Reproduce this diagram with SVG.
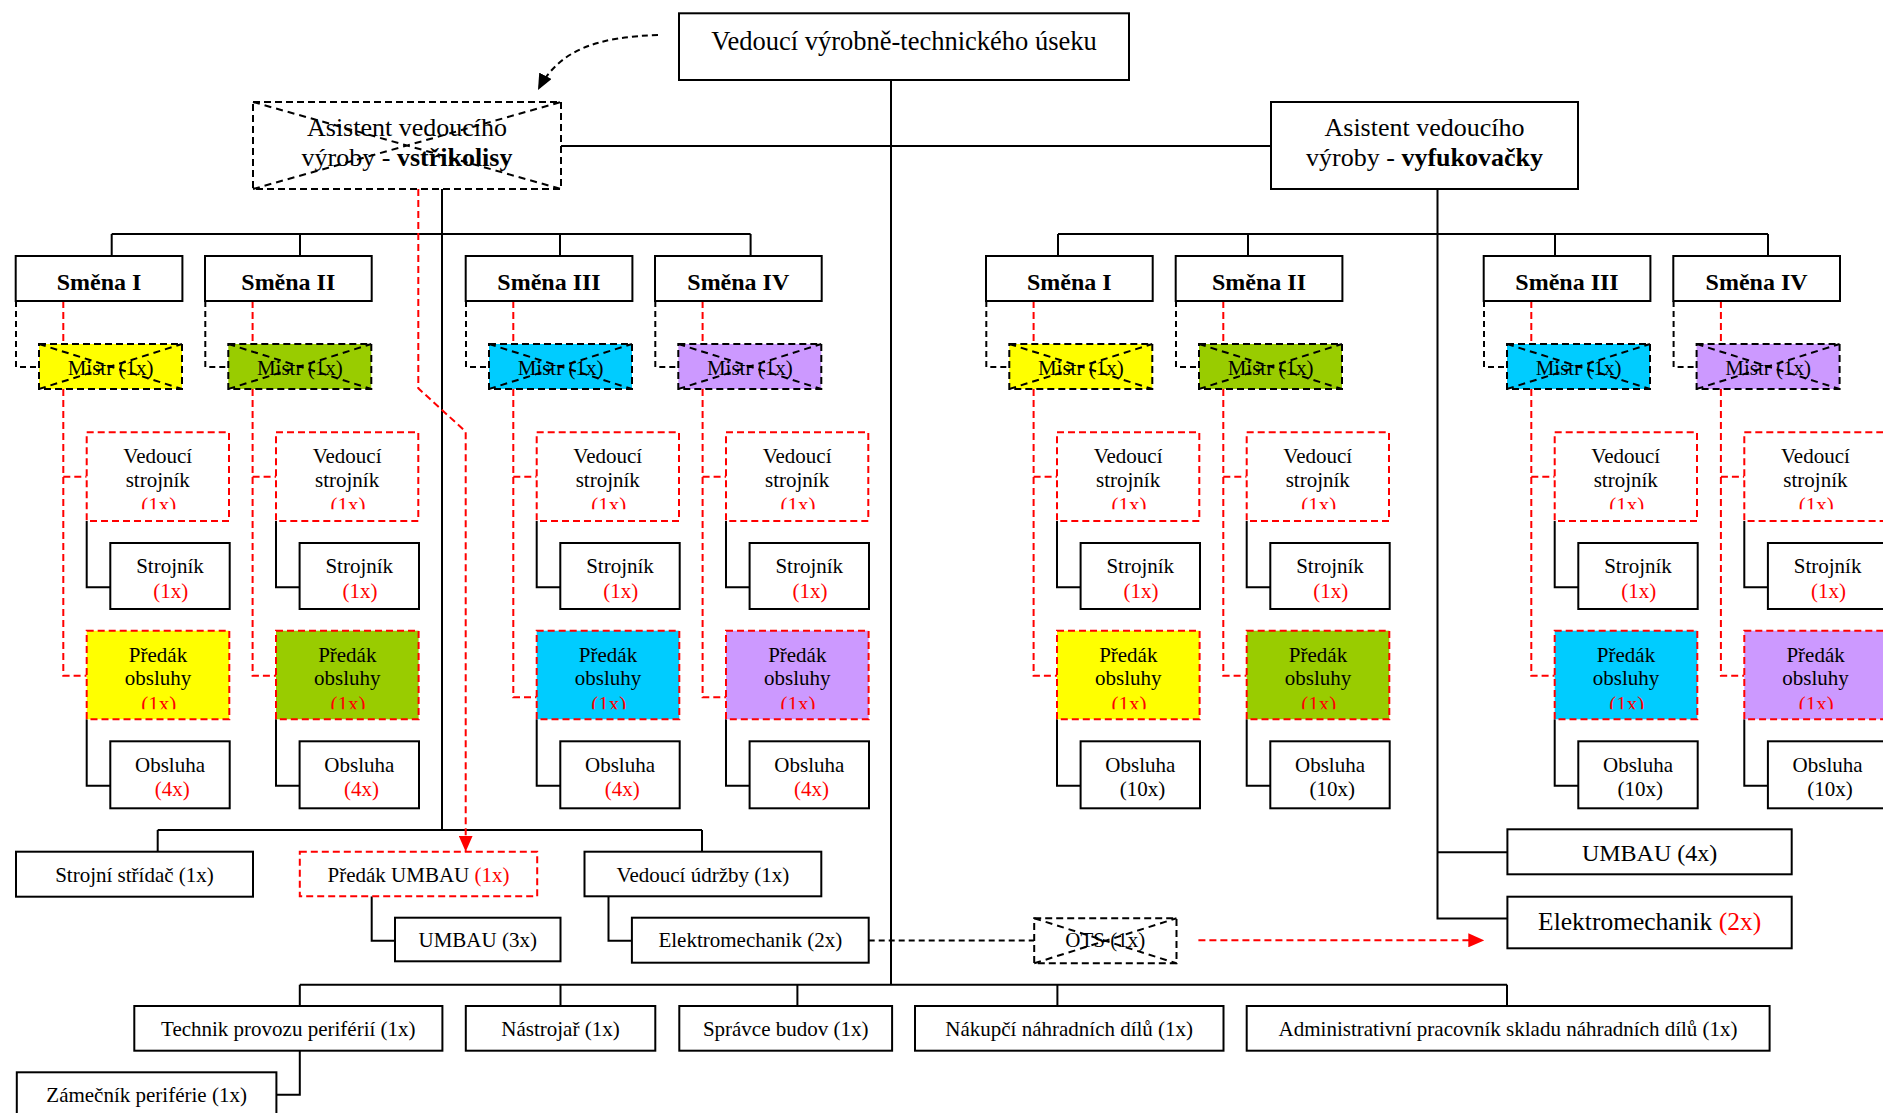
<svg xmlns="http://www.w3.org/2000/svg" width="1883" height="1113" viewBox="0 0 1883 1113">
  <style>
    text { font-family: 'Liberation Serif', 'Times New Roman', serif; fill: #000; text-anchor: middle; }
    .t21 { font-size: 21px; }
    .t24 { font-size: 24px; }
    .t26 { font-size: 26px; }
    .sm { font-size: 24px; font-weight: bold; }
    .red { fill: #f00; }
    .b { font-weight: bold; }
    .box { fill: #fff; stroke: #000; stroke-width: 2; }
    .dbox { fill: #fff; stroke: #000; stroke-width: 2; stroke-dasharray: 7 4; }
    .rbox { fill: #fff; stroke: #f00; stroke-width: 2; stroke-dasharray: 7 4; }
    .xdiag { fill: none; stroke: #000; stroke-width: 2; stroke-dasharray: 7 5; }
    .ln { fill: none; stroke: #000; stroke-width: 2; }
    .dln { fill: none; stroke: #000; stroke-width: 2; stroke-dasharray: 6 4; }
    .rln { fill: none; stroke: #f00; stroke-width: 2; stroke-dasharray: 7 4; }
    .yel { fill: #ffff00; }
    .grn { fill: #99cc00; }
    .cyn { fill: #00ccff; }
    .pur { fill: #cc99ff; }
  </style>
  <defs>
    <marker id="ahB" markerUnits="userSpaceOnUse" markerWidth="16" markerHeight="14" refX="16" refY="7" orient="auto">
      <path d="M0 0 L16 7 L0 14 z" fill="#000"/>
    </marker>
    <marker id="ahR" markerUnits="userSpaceOnUse" markerWidth="16" markerHeight="14" refX="16" refY="7" orient="auto">
      <path d="M0 0 L16 7 L0 14 z" fill="#f00"/>
    </marker>
    <!-- the count line of the two-line red-dashed boxes is cut by the frame padding -->
    <clipPath id="clipVS" clipPathUnits="userSpaceOnUse"><rect x="0" y="0" width="143" height="77"/></clipPath>
    <clipPath id="clipPO" clipPathUnits="userSpaceOnUse"><rect x="0" y="0" width="143" height="78.5"/></clipPath>
  </defs>

  <rect width="1883" height="1113" fill="#fff"/>

  <!-- connectors -->
  <g id="connectors">
    <!-- main spine -->
    <path class="ln" d="M891 80 V984.7"/>
    <path class="ln" d="M561 146 H1271"/>
    <path class="dln" d="M658 35 C600 37 560 48 538 90" marker-end="url(#ahB)"/>

    <!-- left group -->
    <path class="ln" d="M442 189 V830"/>
    <path class="ln" d="M111.7 234 H750.6"/>
    <path class="ln" d="M111.7 234 V256 M300 234 V256 M560 234 V256 M750.6 234 V256"/>
    <!-- right group -->
    <path class="ln" d="M1437.5 189 V918.5 H1507.4 M1437.5 852.3 H1507.4"/>
    <path class="ln" d="M1058 234 H1768"/>
    <path class="ln" d="M1058 234 V256 M1248 234 V256 M1555 234 V256 M1768 234 V256"/>

    <!-- shift columns -->
    <g transform="translate(0,0)">
      <path class="dln" d="M16 301 V367 H39"/>
      <path class="rln" d="M63.3 301 V344 M63.3 389 V675.7 H86.7 M63.3 476.7 H86.7"/>
      <path class="ln" d="M86.7 521 V587.3 H110.3 M86.7 719.3 V785.7 H110.3"/>
    </g>
    <g transform="translate(189.3,0)">
      <path class="dln" d="M16 301 V367 H39"/>
      <path class="rln" d="M63.3 301 V344 M63.3 389 V675.7 H86.7 M63.3 476.7 H86.7"/>
      <path class="ln" d="M86.7 521 V587.3 H110.3 M86.7 719.3 V785.7 H110.3"/>
    </g>
    <g transform="translate(450,0)">
      <path class="dln" d="M16 301 V367 H39"/>
      <path class="rln" d="M63.3 301 V344 M63.3 389 V697.3 H86.7 M63.3 476.7 H86.7"/>
      <path class="ln" d="M86.7 521 V587.3 H110.3 M86.7 719.3 V785.7 H110.3"/>
    </g>
    <g transform="translate(639.3,0)">
      <path class="dln" d="M16 301 V367 H39"/>
      <path class="rln" d="M63.3 301 V344 M63.3 389 V697.3 H86.7 M63.3 476.7 H86.7"/>
      <path class="ln" d="M86.7 521 V587.3 H110.3 M86.7 719.3 V785.7 H110.3"/>
    </g>
    <g transform="translate(970.3,0)">
      <path class="dln" d="M16 301 V367 H39"/>
      <path class="rln" d="M63.3 301 V344 M63.3 389 V675.7 H86.7 M63.3 476.7 H86.7"/>
      <path class="ln" d="M86.7 521 V587.3 H110.3 M86.7 719.3 V785.7 H110.3"/>
    </g>
    <g transform="translate(1160,0)">
      <path class="dln" d="M16 301 V367 H39"/>
      <path class="rln" d="M63.3 301 V344 M63.3 389 V675.7 H86.7 M63.3 476.7 H86.7"/>
      <path class="ln" d="M86.7 521 V587.3 H110.3 M86.7 719.3 V785.7 H110.3"/>
    </g>
    <g transform="translate(1468,0)">
      <path class="dln" d="M16 301 V367 H39"/>
      <path class="rln" d="M63.3 301 V344 M63.3 389 V675.7 H86.7 M63.3 476.7 H86.7"/>
      <path class="ln" d="M86.7 521 V587.3 H110.3 M86.7 719.3 V785.7 H110.3"/>
    </g>
    <g transform="translate(1657.6,0)">
      <path class="dln" d="M16 301 V367 H39"/>
      <path class="rln" d="M63.3 301 V344 M63.3 389 V675.7 H86.7 M63.3 476.7 H86.7"/>
      <path class="ln" d="M86.7 521 V587.3 H110.3 M86.7 719.3 V785.7 H110.3"/>
    </g>

    <!-- maintenance row under the injection-moulding group -->
    <path class="ln" d="M157.7 830 H702 M157.7 830 V851.7 M702 830 V851.7"/>
    <path class="rln" d="M418.3 189 V388.3 L465.7 431.7 V851.7" marker-end="url(#ahR)"/>
    <path class="ln" d="M371.7 896.3 V940.7 H395"/>
    <path class="ln" d="M608.5 896.3 V940.7 H632"/>
    <path class="dln" d="M868.7 940.5 H1034"/>
    <path class="rln" d="M1198.4 940.3 H1484.3" marker-end="url(#ahR)"/>

    <!-- bottom row -->
    <path class="ln" d="M299.8 984.7 H1507"/>
    <path class="ln" d="M299.8 984.7 V1006 M560.5 984.7 V1006 M797.4 984.7 V1006 M1057.4 984.7 V1006 M1507 984.7 V1006"/>
    <path class="ln" d="M299.8 1050.7 V1094.7 H276.4"/>
  </g>

  <!-- head of department -->
  <g id="vedouci-vtu" transform="translate(679,13.3)">
    <rect class="box" x="0" y="0" width="450" height="66.7"/>
    <text x="225" y="36.7" style="font-size:26.5px">Vedoucí výrobně-technického úseku</text>
  </g>

  <!-- assistants -->
  <g id="asistent-vstrikolisy" transform="translate(253,102)">
    <rect class="dbox" x="0" y="0" width="308" height="87"/>
    <text class="t26" x="154" y="34">Asistent vedoucího</text>
    <text class="t26" x="154" y="64">výroby - <tspan class="b">vstřikolisy</tspan></text>
    <path class="xdiag" d="M0 0 L308 87 M0 87 L308 0"/>
  </g>
  <g id="asistent-vyfukovacky" transform="translate(1271,102)">
    <rect class="box" x="0" y="0" width="307" height="87"/>
    <text class="t26" x="153.5" y="34">Asistent vedoucího</text>
    <text class="t26" x="153.5" y="64">výroby - <tspan class="b">vyfukovačky</tspan></text>
  </g>

  <!-- ===== shift columns: injection moulding ===== -->
  <!-- L1 -->
  <g id="smena-1-vst" transform="translate(15.7,256)"><rect class="box" width="166.7" height="45"/><text class="sm" x="83.3" y="34">Směna I</text></g>
  <g id="mistr-1-vst" transform="translate(39,344)"><rect class="dbox yel" width="143" height="45"/><text class="t21" x="71.5" y="31">Mistr (1x)</text><path class="xdiag" d="M0 0 L143 45 M0 45 L143 0"/></g>
  <g id="vs-1-vst" transform="translate(86.7,432.3)"><rect class="rbox" width="142.3" height="88.7"/><text class="t21" x="71.1" y="30.4">Vedoucí</text><text class="t21" x="71.1" y="54.4">strojník</text><text class="t21 red" x="72" y="80" clip-path="url(#clipVS)">(1x)</text></g>
  <g id="stroj-1-vst" transform="translate(110.3,543)"><rect class="box" width="119.4" height="66"/><text class="t21" x="59.7" y="30">Strojník</text><text class="t21 red" x="60.5" y="54.7">(1x)</text></g>
  <g id="predak-1-vst" transform="translate(86.7,630.7)"><rect class="rbox yel" width="142.6" height="88.6"/><text class="t21" x="71.3" y="31">Předák</text><text class="t21" x="71.3" y="54.3">obsluhy</text><text class="t21 red" x="72" y="80.3" clip-path="url(#clipPO)">(1x)</text></g>
  <g id="obsl-1-vst" transform="translate(110.3,741.3)"><rect class="box" width="119.4" height="67"/><text class="t21" x="59.7" y="30.4">Obsluha</text><text class="t21 red" x="62" y="54.4">(4x)</text></g>
  <!-- L2 -->
  <g id="smena-2-vst" transform="translate(205,256)"><rect class="box" width="166.7" height="45"/><text class="sm" x="83.3" y="34">Směna II</text></g>
  <g id="mistr-2-vst" transform="translate(228.3,344)"><rect class="dbox grn" width="143" height="45"/><text class="t21" x="71.5" y="31">Mistr (1x)</text><path class="xdiag" d="M0 0 L143 45 M0 45 L143 0"/></g>
  <g id="vs-2-vst" transform="translate(276,432.3)"><rect class="rbox" width="142.3" height="88.7"/><text class="t21" x="71.1" y="30.4">Vedoucí</text><text class="t21" x="71.1" y="54.4">strojník</text><text class="t21 red" x="72" y="80" clip-path="url(#clipVS)">(1x)</text></g>
  <g id="stroj-2-vst" transform="translate(299.6,543)"><rect class="box" width="119.4" height="66"/><text class="t21" x="59.7" y="30">Strojník</text><text class="t21 red" x="60.5" y="54.7">(1x)</text></g>
  <g id="predak-2-vst" transform="translate(276,630.7)"><rect class="rbox grn" width="142.6" height="88.6"/><text class="t21" x="71.3" y="31">Předák</text><text class="t21" x="71.3" y="54.3">obsluhy</text><text class="t21 red" x="72" y="80.3" clip-path="url(#clipPO)">(1x)</text></g>
  <g id="obsl-2-vst" transform="translate(299.6,741.3)"><rect class="box" width="119.4" height="67"/><text class="t21" x="59.7" y="30.4">Obsluha</text><text class="t21 red" x="62" y="54.4">(4x)</text></g>
  <!-- L3 -->
  <g id="smena-3-vst" transform="translate(465.7,256)"><rect class="box" width="166.7" height="45"/><text class="sm" x="83.3" y="34">Směna III</text></g>
  <g id="mistr-3-vst" transform="translate(489,344)"><rect class="dbox cyn" width="143" height="45"/><text class="t21" x="71.5" y="31">Mistr (1x)</text><path class="xdiag" d="M0 0 L143 45 M0 45 L143 0"/></g>
  <g id="vs-3-vst" transform="translate(536.7,432.3)"><rect class="rbox" width="142.3" height="88.7"/><text class="t21" x="71.1" y="30.4">Vedoucí</text><text class="t21" x="71.1" y="54.4">strojník</text><text class="t21 red" x="72" y="80" clip-path="url(#clipVS)">(1x)</text></g>
  <g id="stroj-3-vst" transform="translate(560.3,543)"><rect class="box" width="119.4" height="66"/><text class="t21" x="59.7" y="30">Strojník</text><text class="t21 red" x="60.5" y="54.7">(1x)</text></g>
  <g id="predak-3-vst" transform="translate(536.7,630.7)"><rect class="rbox cyn" width="142.6" height="88.6"/><text class="t21" x="71.3" y="31">Předák</text><text class="t21" x="71.3" y="54.3">obsluhy</text><text class="t21 red" x="72" y="80.3" clip-path="url(#clipPO)">(1x)</text></g>
  <g id="obsl-3-vst" transform="translate(560.3,741.3)"><rect class="box" width="119.4" height="67"/><text class="t21" x="59.7" y="30.4">Obsluha</text><text class="t21 red" x="62" y="54.4">(4x)</text></g>
  <!-- L4 -->
  <g id="smena-4-vst" transform="translate(655,256)"><rect class="box" width="166.7" height="45"/><text class="sm" x="83.3" y="34">Směna IV</text></g>
  <g id="mistr-4-vst" transform="translate(678.3,344)"><rect class="dbox pur" width="143" height="45"/><text class="t21" x="71.5" y="31">Mistr (1x)</text><path class="xdiag" d="M0 0 L143 45 M0 45 L143 0"/></g>
  <g id="vs-4-vst" transform="translate(726,432.3)"><rect class="rbox" width="142.3" height="88.7"/><text class="t21" x="71.1" y="30.4">Vedoucí</text><text class="t21" x="71.1" y="54.4">strojník</text><text class="t21 red" x="72" y="80" clip-path="url(#clipVS)">(1x)</text></g>
  <g id="stroj-4-vst" transform="translate(749.6,543)"><rect class="box" width="119.4" height="66"/><text class="t21" x="59.7" y="30">Strojník</text><text class="t21 red" x="60.5" y="54.7">(1x)</text></g>
  <g id="predak-4-vst" transform="translate(726,630.7)"><rect class="rbox pur" width="142.6" height="88.6"/><text class="t21" x="71.3" y="31">Předák</text><text class="t21" x="71.3" y="54.3">obsluhy</text><text class="t21 red" x="72" y="80.3" clip-path="url(#clipPO)">(1x)</text></g>
  <g id="obsl-4-vst" transform="translate(749.6,741.3)"><rect class="box" width="119.4" height="67"/><text class="t21" x="59.7" y="30.4">Obsluha</text><text class="t21 red" x="62" y="54.4">(4x)</text></g>

  <!-- ===== shift columns: blow moulding ===== -->
  <!-- R1 -->
  <g id="smena-1-vyf" transform="translate(986,256)"><rect class="box" width="166.7" height="45"/><text class="sm" x="83.3" y="34">Směna I</text></g>
  <g id="mistr-1-vyf" transform="translate(1009.3,344)"><rect class="dbox yel" width="143" height="45"/><text class="t21" x="71.5" y="31">Mistr (1x)</text><path class="xdiag" d="M0 0 L143 45 M0 45 L143 0"/></g>
  <g id="vs-1-vyf" transform="translate(1057,432.3)"><rect class="rbox" width="142.3" height="88.7"/><text class="t21" x="71.1" y="30.4">Vedoucí</text><text class="t21" x="71.1" y="54.4">strojník</text><text class="t21 red" x="72" y="80" clip-path="url(#clipVS)">(1x)</text></g>
  <g id="stroj-1-vyf" transform="translate(1080.6,543)"><rect class="box" width="119.4" height="66"/><text class="t21" x="59.7" y="30">Strojník</text><text class="t21 red" x="60.5" y="54.7">(1x)</text></g>
  <g id="predak-1-vyf" transform="translate(1057,630.7)"><rect class="rbox yel" width="142.6" height="88.6"/><text class="t21" x="71.3" y="31">Předák</text><text class="t21" x="71.3" y="54.3">obsluhy</text><text class="t21 red" x="72" y="80.3" clip-path="url(#clipPO)">(1x)</text></g>
  <g id="obsl-1-vyf" transform="translate(1080.6,741.3)"><rect class="box" width="119.4" height="67"/><text class="t21" x="59.7" y="30.4">Obsluha</text><text class="t21" x="62" y="54.4">(10x)</text></g>
  <!-- R2 -->
  <g id="smena-2-vyf" transform="translate(1175.7,256)"><rect class="box" width="166.7" height="45"/><text class="sm" x="83.3" y="34">Směna II</text></g>
  <g id="mistr-2-vyf" transform="translate(1199,344)"><rect class="dbox grn" width="143" height="45"/><text class="t21" x="71.5" y="31">Mistr (1x)</text><path class="xdiag" d="M0 0 L143 45 M0 45 L143 0"/></g>
  <g id="vs-2-vyf" transform="translate(1246.7,432.3)"><rect class="rbox" width="142.3" height="88.7"/><text class="t21" x="71.1" y="30.4">Vedoucí</text><text class="t21" x="71.1" y="54.4">strojník</text><text class="t21 red" x="72" y="80" clip-path="url(#clipVS)">(1x)</text></g>
  <g id="stroj-2-vyf" transform="translate(1270.3,543)"><rect class="box" width="119.4" height="66"/><text class="t21" x="59.7" y="30">Strojník</text><text class="t21 red" x="60.5" y="54.7">(1x)</text></g>
  <g id="predak-2-vyf" transform="translate(1246.7,630.7)"><rect class="rbox grn" width="142.6" height="88.6"/><text class="t21" x="71.3" y="31">Předák</text><text class="t21" x="71.3" y="54.3">obsluhy</text><text class="t21 red" x="72" y="80.3" clip-path="url(#clipPO)">(1x)</text></g>
  <g id="obsl-2-vyf" transform="translate(1270.3,741.3)"><rect class="box" width="119.4" height="67"/><text class="t21" x="59.7" y="30.4">Obsluha</text><text class="t21" x="62" y="54.4">(10x)</text></g>
  <!-- R3 -->
  <g id="smena-3-vyf" transform="translate(1483.7,256)"><rect class="box" width="166.7" height="45"/><text class="sm" x="83.3" y="34">Směna III</text></g>
  <g id="mistr-3-vyf" transform="translate(1507,344)"><rect class="dbox cyn" width="143" height="45"/><text class="t21" x="71.5" y="31">Mistr (1x)</text><path class="xdiag" d="M0 0 L143 45 M0 45 L143 0"/></g>
  <g id="vs-3-vyf" transform="translate(1554.7,432.3)"><rect class="rbox" width="142.3" height="88.7"/><text class="t21" x="71.1" y="30.4">Vedoucí</text><text class="t21" x="71.1" y="54.4">strojník</text><text class="t21 red" x="72" y="80" clip-path="url(#clipVS)">(1x)</text></g>
  <g id="stroj-3-vyf" transform="translate(1578.3,543)"><rect class="box" width="119.4" height="66"/><text class="t21" x="59.7" y="30">Strojník</text><text class="t21 red" x="60.5" y="54.7">(1x)</text></g>
  <g id="predak-3-vyf" transform="translate(1554.7,630.7)"><rect class="rbox cyn" width="142.6" height="88.6"/><text class="t21" x="71.3" y="31">Předák</text><text class="t21" x="71.3" y="54.3">obsluhy</text><text class="t21 red" x="72" y="80.3" clip-path="url(#clipPO)">(1x)</text></g>
  <g id="obsl-3-vyf" transform="translate(1578.3,741.3)"><rect class="box" width="119.4" height="67"/><text class="t21" x="59.7" y="30.4">Obsluha</text><text class="t21" x="62" y="54.4">(10x)</text></g>
  <!-- R4 -->
  <g id="smena-4-vyf" transform="translate(1673.3,256)"><rect class="box" width="166.7" height="45"/><text class="sm" x="83.3" y="34">Směna IV</text></g>
  <g id="mistr-4-vyf" transform="translate(1696.6,344)"><rect class="dbox pur" width="143" height="45"/><text class="t21" x="71.5" y="31">Mistr (1x)</text><path class="xdiag" d="M0 0 L143 45 M0 45 L143 0"/></g>
  <g id="vs-4-vyf" transform="translate(1744.3,432.3)"><rect class="rbox" width="142.3" height="88.7"/><text class="t21" x="71.1" y="30.4">Vedoucí</text><text class="t21" x="71.1" y="54.4">strojník</text><text class="t21 red" x="72" y="80" clip-path="url(#clipVS)">(1x)</text></g>
  <g id="stroj-4-vyf" transform="translate(1767.9,543)"><rect class="box" width="119.4" height="66"/><text class="t21" x="59.7" y="30">Strojník</text><text class="t21 red" x="60.5" y="54.7">(1x)</text></g>
  <g id="predak-4-vyf" transform="translate(1744.3,630.7)"><rect class="rbox pur" width="142.6" height="88.6"/><text class="t21" x="71.3" y="31">Předák</text><text class="t21" x="71.3" y="54.3">obsluhy</text><text class="t21 red" x="72" y="80.3" clip-path="url(#clipPO)">(1x)</text></g>
  <g id="obsl-4-vyf" transform="translate(1767.9,741.3)"><rect class="box" width="119.4" height="67"/><text class="t21" x="59.7" y="30.4">Obsluha</text><text class="t21" x="62" y="54.4">(10x)</text></g>

  <!-- blow moulding extra staff -->
  <g id="umbau-4x" transform="translate(1507.4,829.3)"><rect class="box" width="284.3" height="45"/><text class="t24" x="142.2" y="31.5">UMBAU (4x)</text></g>
  <g id="elektromech-vyf" transform="translate(1507.4,896.7)"><rect class="box" width="284.3" height="51.6"/><text x="142.2" y="33" style="font-size:25.5px">Elektromechanik <tspan class="red">(2x)</tspan></text></g>

  <!-- injection moulding extra staff -->
  <g id="strojni-stridac" transform="translate(16,851.7)"><rect class="box" width="237" height="45"/><text class="t21" x="118.5" y="30">Strojní střídač (1x)</text></g>
  <g id="predak-umbau" transform="translate(299.8,851.7)"><rect class="rbox" width="237.4" height="44.6"/><text class="t21" x="118.7" y="30">Předák UMBAU <tspan class="red">(1x)</tspan></text></g>
  <g id="vedouci-udrzby" transform="translate(584.5,851.7)"><rect class="box" width="236.8" height="44.6"/><text class="t21" x="118.4" y="30">Vedoucí údržby (1x)</text></g>
  <g id="umbau-3x" transform="translate(395,917.7)"><rect class="box" width="165.5" height="43.6"/><text class="t21" x="82.7" y="29.5">UMBAU (3x)</text></g>
  <g id="elektromech-vst" transform="translate(631.9,917.7)"><rect class="box" width="236.8" height="45"/><text class="t21" x="118.4" y="29.5">Elektromechanik (2x)</text></g>
  <g id="ots" transform="translate(1034.2,918.3)"><rect class="dbox" width="142.3" height="45"/><text class="t21" x="71.1" y="29">OTS (1x)</text><path class="xdiag" d="M0 0 L142.3 45 M0 45 L142.3 0"/></g>

  <!-- department-wide staff -->
  <g id="technik-periferii" transform="translate(134.3,1006)"><rect class="box" width="308.1" height="44.7"/><text class="t21" x="154" y="30">Technik provozu periférií (1x)</text></g>
  <g id="nastrojar" transform="translate(465.8,1006)"><rect class="box" width="189.5" height="44.7"/><text class="t21" x="94.7" y="30">Nástrojař (1x)</text></g>
  <g id="spravce-budov" transform="translate(679.3,1006)"><rect class="box" width="212.8" height="44.7"/><text class="t21" x="106.4" y="30">Správce budov (1x)</text></g>
  <g id="nakupci" transform="translate(915,1006)"><rect class="box" width="308.5" height="44.7"/><text class="t21" x="154.2" y="30">Nákupčí náhradních dílů (1x)</text></g>
  <g id="admin-sklad" transform="translate(1246.7,1006)"><rect class="box" width="522.9" height="44.7"/><text class="t21" x="261.4" y="30">Administrativní pracovník skladu náhradních dílů (1x)</text></g>
  <g id="zamecnik" transform="translate(16.8,1072.3)"><rect class="box" width="259.6" height="45"/><text class="t21" x="129.8" y="29.5">Zámečník periférie (1x)</text></g>
</svg>
